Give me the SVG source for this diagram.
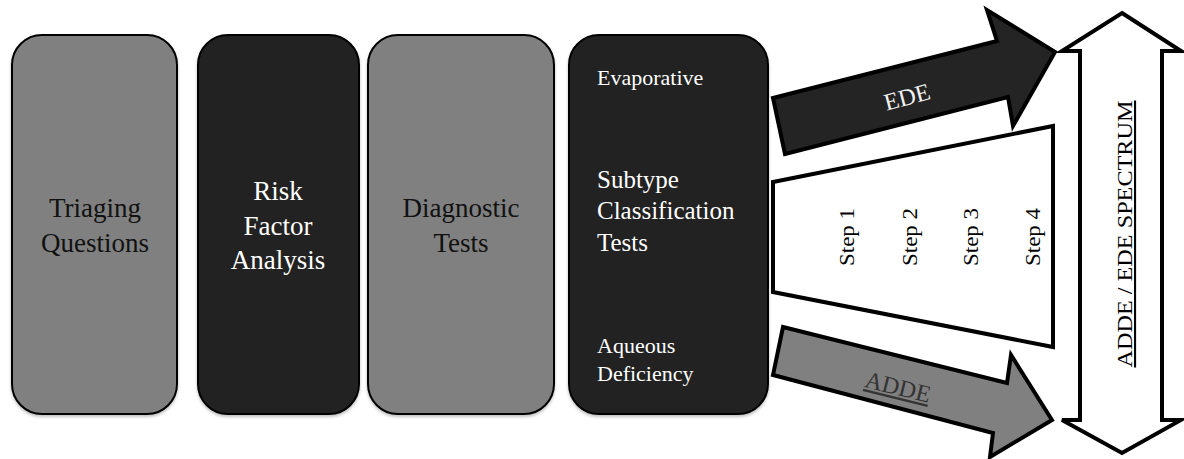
<svg xmlns="http://www.w3.org/2000/svg" width="1184" height="459" viewBox="0 0 1184 459">
<style>
  .box { stroke: #000; stroke-width: 2; }
  .gray { fill: #808080; }
  .dark { fill: #242424; }
  .t { font-family: "Liberation Serif", "Times New Roman", serif; }
  .big { font-size: 27px; text-anchor: middle; }
  .side { font-size: 22px; }
  .mid { font-size: 25px; }
  .shape { stroke: #000; stroke-width: 4; stroke-linejoin: miter; }
  .step { font-size: 20px; text-anchor: middle; fill: #000; }
</style>
<defs>
  <filter id="sh" x="-10%" y="-10%" width="120%" height="120%">
    <feDropShadow dx="0" dy="2" stdDeviation="1.5" flood-color="#000" flood-opacity="0.25"/>
  </filter>
</defs>
<rect width="1184" height="459" fill="#fff"/>

<g id="triaging">
  <rect class="box gray" x="12" y="35" width="165" height="379" rx="30" filter="url(#sh)"/>
  <text class="t big" fill="#111" x="95" y="217">Triaging</text>
  <text class="t big" fill="#111" x="95" y="252">Questions</text>
</g>
<g id="risk">
  <rect class="box dark" x="198" y="35" width="161" height="379" rx="30" filter="url(#sh)"/>
  <text class="t big" fill="#fff" x="278" y="200">Risk</text>
  <text class="t big" fill="#fff" x="278" y="235">Factor</text>
  <text class="t big" fill="#fff" x="278" y="269">Analysis</text>
</g>
<g id="diagnostic">
  <rect class="box gray" x="368" y="35" width="186" height="379" rx="30" filter="url(#sh)"/>
  <text class="t big" fill="#111" x="461" y="217">Diagnostic</text>
  <text class="t big" fill="#111" x="461" y="252">Tests</text>
</g>
<g id="subtype">
  <rect class="box dark" x="569" y="35" width="199" height="379" rx="30" filter="url(#sh)"/>
  <text class="t side" fill="#fff" x="597" y="85">Evaporative</text>
  <text class="t mid" fill="#fff" x="597" y="188">Subtype</text>
  <text class="t mid" fill="#fff" x="597" y="219">Classification</text>
  <text class="t mid" fill="#fff" x="597" y="251">Tests</text>
  <text class="t side" fill="#fff" x="597" y="353">Aqueous</text>
  <text class="t side" fill="#fff" x="597" y="381">Deficiency</text>
</g>

<g id="connectors">
  <g id="ede-arrow">
    <polygon class="shape" fill="#242424" points="773,98 997,41 987,10 1055,52 1013,126 1008,97 785,154"/>
    <text class="t" font-size="24" fill="#f2f2f2" text-anchor="middle" transform="translate(907,97) rotate(-15)" y="8">EDE</text>
  </g>
  <g id="adde-arrow">
    <polygon class="shape" fill="#808080" points="783,327 1007,383 1011,355 1052,420 990,457 993,433 773,375"/>
    <text class="t" font-size="24" fill="#333" text-anchor="middle" text-decoration="underline" transform="translate(898,387) rotate(14)" y="8">ADDE</text>
  </g>
</g>

<g id="steps">
  <polygon class="shape" fill="#fff" points="773,182 1053,126 1053,347 773,292"/>
  <text class="t step" transform="translate(854,237) rotate(-90)" textLength="58" lengthAdjust="spacingAndGlyphs">Step 1</text>
  <text class="t step" transform="translate(917,237) rotate(-90)" textLength="58" lengthAdjust="spacingAndGlyphs">Step 2</text>
  <text class="t step" transform="translate(978,237) rotate(-90)" textLength="58" lengthAdjust="spacingAndGlyphs">Step 3</text>
  <text class="t step" transform="translate(1040,237) rotate(-90)" textLength="58" lengthAdjust="spacingAndGlyphs">Step 4</text>
</g>

<g id="spectrum">
  <polygon class="shape" fill="#fff" points="1122,13 1181,51 1162,51 1162,420 1181,420 1122,453 1062,420 1080,420 1080,51 1062,51"/>
  <text class="t" font-size="21" fill="#000" text-anchor="middle" text-decoration="underline" transform="translate(1132,234) rotate(-90)" textLength="267" lengthAdjust="spacingAndGlyphs">ADDE / EDE SPECTRUM</text>
</g>
</svg>
